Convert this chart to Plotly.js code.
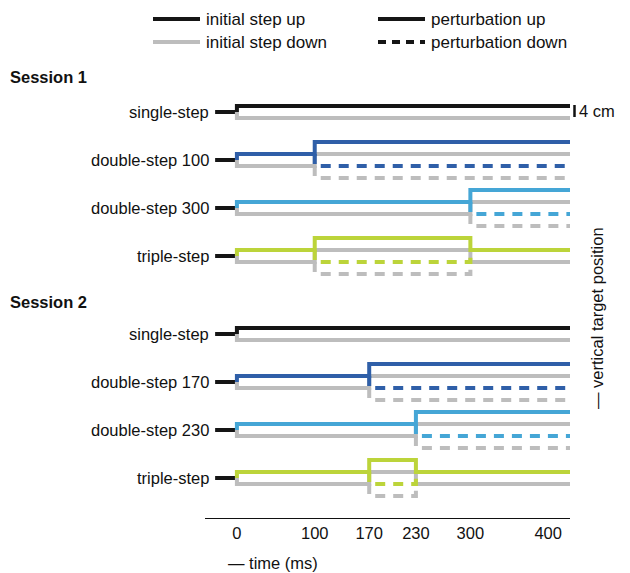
<!DOCTYPE html>
<html><head><meta charset="utf-8">
<script src="https://cdn.plot.ly/plotly-3.0.1.min.js"></script>
<style>body{margin:0}</style></head>
<body><div id="chart" style="width:630px;height:573px"></div>
<script>
// conditions, top to bottom
var labels = ['single-step', 'double-step 100', 'double-step 300', 'triple-step',
              'single-step', 'double-step 170', 'double-step 230', 'triple-step'];
var kinds = ['single', 'double', 'double', 'triple', 'single', 'double', 'double', 'triple'];
var onsets = [[], [100], [300], [100, 300], [], [170], [230], [170, 230]];
var rows = [112, 160, 208, 256, 334, 382, 430, 478];   // vertical slot of each condition
var colors = ['#151515', '#2f5fa8', '#45a6d6', '#bcd43a', '#151515', '#2f5fa8', '#45a6d6', '#bcd43a'];
var tickVals = [0, 100, 170, 230, 300, 400];
var tEnd = 428, tStart = -28;
var unit = 6;  // one step in plot units
var gray = '#bdbdbd';

var traces = [];
function add(x, lv, row, color, dashed) {
  traces.push({x: x, y: lv.map(function (v) { return row - v * unit; }), mode: 'lines',
    line: {color: color, width: 4, dash: dashed ? '10px,8px' : 'solid'}, hoverinfo: 'skip'});
}
rows.forEach(function (r, i) {
  var T = onsets[i];
  add([tStart, 0], [0, 0], r, '#151515', false);
  if (kinds[i] == 'single') {
    add([0, 0, tEnd], [0, -1, -1], r, gray, false);
    add([0, 0, tEnd], [0, 1, 1], r, colors[i], false);
  } else if (kinds[i] == 'double') {
    var t = T[0];
    add([t, t, tEnd], [-1, -3, -3], r, gray, true);
    add([0, 0, t, t, tEnd], [0, -1, -1, 1, 1], r, gray, false);
    add([t, t, tEnd], [1, -1, -1], r, colors[i], true);
    add([0, 0, t, t, tEnd], [0, 1, 1, 3, 3], r, colors[i], false);
  } else {
    var a = T[0], b = T[1];
    add([a, a, b, b], [-1, -3, -3, -1], r, gray, true);
    add([0, 0, a, a, b, b, tEnd], [0, -1, -1, 1, 1, -1, -1], r, gray, false);
    add([a, a, b, b], [1, -1, -1, 1], r, colors[i], true);
    add([0, 0, a, a, b, b, tEnd], [0, 1, 1, 3, 3, 1, 1], r, colors[i], false);
  }
});

var ff = 'Liberation Sans, Arial, sans-serif';
var font = {family: ff, size: 16.5, color: '#111'};
var H = 518, L = 205, W = 630 - 205 - 60;
function px(x) { return (x - L) / W; }
function py(y) { return 1 - y / H; }
var ann = labels.map(function (l, i) {
  return {x: -33, y: rows[i], xref: 'x', yref: 'y', text: l, showarrow: false, xanchor: 'right', yanchor: 'middle', font: font};
});
function note(text, x, y, opt) {
  var a = {x: px(x), y: py(y), xref: 'paper', yref: 'paper', text: text, showarrow: false,
    xanchor: 'left', yanchor: 'middle', font: font};
  for (var k in opt) a[k] = opt[k];
  ann.push(a);
}
note('<b>Session 1</b>', 8, 77);
note('<b>Session 2</b>', 8, 302);
note('4 cm', 577, 111);
note('— vertical target position', 597, 318, {xanchor: 'center', textangle: -90});
note('— time (ms)', 226, 563);
// legend
var leg = [['initial step up', 153, 19, '#151515', 'solid'], ['initial step down', 153, 42, gray, 'solid'],
           ['perturbation up', 378, 19, '#151515', 'solid'], ['perturbation down', 378, 42, '#151515', '8px,6px']];
var shapes = [];
leg.forEach(function (g) {
  note(g[0], g[1] + 51, g[2], {font: {family: ff, size: 17, color: '#111'}});
  shapes.push({type: 'line', xref: 'paper', yref: 'paper', x0: px(g[1]), x1: px(g[1] + 47), y0: py(g[2]), y1: py(g[2]),
    line: {color: g[3], width: 4, dash: g[4]}});
});
shapes.push({type: 'line', xref: 'paper', yref: 'paper', x0: px(574.5), x1: px(574.5), y0: py(105), y1: py(117), line: {color: '#111', width: 2.5}});

var layout = {
  width: 630, height: 573, showlegend: false,
  margin: {l: L, r: 60, t: 0, b: 55},
  plot_bgcolor: 'white', paper_bgcolor: 'white',
  xaxis: {range: [-41, 428], tickvals: tickVals, showgrid: false, zeroline: false, showline: true,
    linecolor: '#111', linewidth: 1.2, ticks: '', tickfont: {family: ff, size: 16.5, color: '#111'}},
  yaxis: {range: [H, 0], visible: false, showgrid: false},
  annotations: ann, shapes: shapes
};
Plotly.newPlot('chart', traces, layout, {displayModeBar: false, staticPlot: true});
</script></body></html>
